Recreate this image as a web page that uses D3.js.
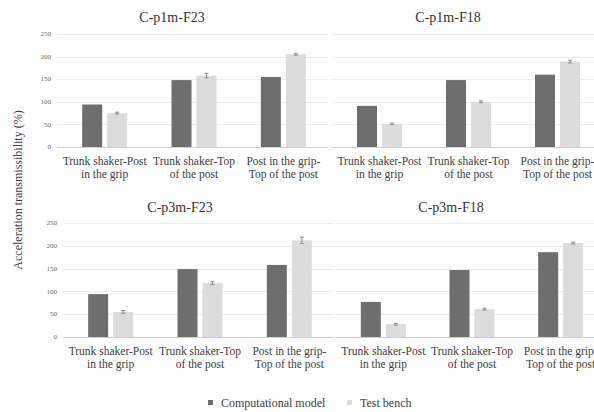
<!DOCTYPE html>
<html>
<head>
<meta charset="utf-8">
<script src="https://cdnjs.cloudflare.com/ajax/libs/d3/7.8.5/d3.min.js"></script>
</head>
<body style="margin:0">
<svg id="chart" width="594" height="412"></svg>
<script>
// Acceleration transmissibility (%) — computational model vs. test bench
const categories = [
  ["Trunk shaker-Post", "in the grip"],
  ["Trunk shaker-Top", "of the post"],
  ["Post in the grip-", "Top of the post"]
];
const seriesNames = ["Computational model", "Test bench"];
const yTicks = [0, 50, 100, 150, 200, 250];

const titles = ["C-p1m-F23", "C-p1m-F18", "C-p3m-F23", "C-p3m-F18"];
const modelValues = [
  [94, 148, 155],
  [91, 148, 160],
  [94, 149, 158],
  [77, 147, 186]
];
const benchValues = [
  [75, 158, 205],
  [51, 100, 189],
  [55, 118, 212],
  [28, 61, 206]
];
const benchError = [
  [2, 5, 2],
  [2, 2, 3],
  [3, 3, 7],
  [2, 2, 2]
];

const FONT = "Liberation Serif";
const K = 2; // text is set at K× size and scaled down for crisper glyph rendering

// Panel layout: plot x-range, y-range (pixel for 0 and 250), title position, axis labels shown
const layout = [
  { x: [60, 328],  y: [147, 34],  titleX: 172, titleY: 22,  axis: true,  labelY: 165 },
  { x: [335, 602], y: [147, 34],  titleX: 448, titleY: 22,  axis: false, labelY: 165 },
  { x: [66, 334],  y: [337, 223], titleX: 180, titleY: 212, axis: true,  labelY: 355 },
  { x: [339, 605], y: [337, 223], titleX: 451, titleY: 212, axis: false, labelY: 355 }
];

const colors = ["#6e6e6e", "#dcdcdc"];
const textColor = "#404040";
const svg = d3.select("#chart");

// helper: text placed at (x, y) with optional rotation
function label(parent, x, y, str, size, opts = {}) {
  return parent.append("text")
    .attr("transform", `translate(${x},${y})${opts.rotate ? ` rotate(${opts.rotate})` : ""} scale(${1 / K})`)
    .attr("text-anchor", opts.anchor || "middle")
    .attr("dy", opts.dy || null)
    .attr("font-family", FONT)
    .style("font-family", `"${FONT}"`)
    .attr("font-size", size * K)
    .attr("fill", opts.fill || textColor)
    .text(str);
}

layout.forEach((L, p) => {
  const g = svg.append("g");
  const x = d3.scaleBand().domain(d3.range(categories.length)).range(L.x);
  const y = d3.scaleLinear().domain([0, 250]).range(L.y);
  const barW = 20, gap = 5;

  // gridlines
  g.selectAll("line.grid").data(yTicks).join("line")
    .attr("x1", L.x[0] - 3).attr("x2", Math.min(L.x[1], 594))
    .attr("y1", d => Math.round(y(d)) + 0.5).attr("y2", d => Math.round(y(d)) + 0.5)
    .attr("stroke", d => d === 0 ? "#d0d0d0" : "#ececec").attr("stroke-width", 1);

  // y tick labels
  if (L.axis) {
    yTicks.forEach(t => label(g, L.x[0] - 9, y(t), String(t), 7, { anchor: "end", dy: "0.32em", fill: "#666" }));
  }

  // bars
  categories.forEach((cat, i) => {
    const c = x(i) + x.bandwidth() / 2;
    const m = modelValues[p][i], b = benchValues[p][i], e = benchError[p][i];

    g.append("rect")
      .attr("x", c - barW - gap / 2).attr("width", barW)
      .attr("y", y(m)).attr("height", y(0) - y(m))
      .attr("fill", colors[0]);

    g.append("rect")
      .attr("x", c + gap / 2).attr("width", barW)
      .attr("y", y(b)).attr("height", y(0) - y(b))
      .attr("fill", colors[1]);

    // error bar on the test bench value
    const ex = c + gap / 2 + barW / 2;
    const eb = g.append("g").attr("stroke", "#8a8a8a").attr("stroke-width", 1);
    eb.append("line").attr("x1", ex).attr("x2", ex).attr("y1", y(b - e)).attr("y2", y(b + e));
    eb.append("line").attr("x1", ex - 2).attr("x2", ex + 2).attr("y1", y(b + e)).attr("y2", y(b + e));
    eb.append("line").attr("x1", ex - 2).attr("x2", ex + 2).attr("y1", y(b - e)).attr("y2", y(b - e));

    // two-line category label
    cat.forEach((line, k) => label(g, c, L.labelY + k * 13, line, 11.5));
  });

  // panel title
  label(g, L.titleX, L.titleY, titles[p], 14, { fill: "#333" });
});

// y-axis title
label(svg, 22, 190, "Acceleration transmissibility (%)", 12, { rotate: -90 });

// legend
const legendItems = [
  { name: seriesNames[0], color: colors[0], x: 208 },
  { name: seriesNames[1], color: colors[1], x: 347 }
];
legendItems.forEach(d => {
  svg.append("rect").attr("x", d.x).attr("y", 400).attr("width", 5).attr("height", 5).attr("fill", d.color);
  label(svg, d.x + 13, 407, d.name, 12, { anchor: "start" });
});
</script>
</body>
</html>
